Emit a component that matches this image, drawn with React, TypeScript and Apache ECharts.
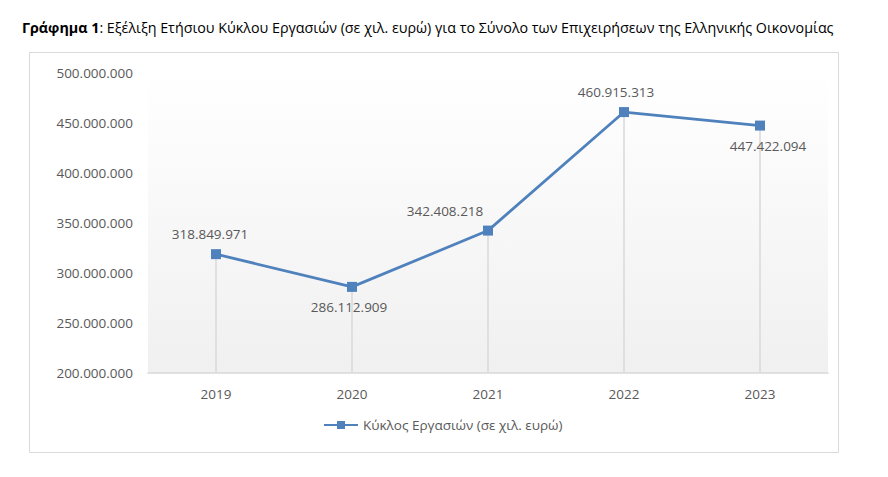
import * as echarts from 'echarts';
import { useEffect, useRef } from 'react';

const years = ['2019', '2020', '2021', '2022', '2023'];
const turnover = [318849971, 286112909, 342408218, 460915313, 447422094];
const seriesName = 'Κύκλος Εργασιών (σε χιλ. ευρώ)';
const titleBold = 'Γράφημα 1';
const titleRest = ': Εξέλιξη Ετήσιου Κύκλου Εργασιών (σε χιλ. ευρώ) για το Σύνολο των Επιχειρήσεων της Ελληνικής Οικονομίας';

const AXIS_MIN = 200000000;
const FONT = '"Open Sans", "Noto Sans", sans-serif';
const TEXT = '#595959';
const BLUE = '#4f81bd';

// 500000000 -> 500.000.000
const fmt = (v: number) => String(Math.round(v)).replace(/\B(?=(\d{3})+(?!\d))/g, '.');

// label placement per point, as Excel put them
const labelPos: { position: string; offset: number[] }[] = [
  { position: 'top', offset: [-6, 0] },
  { position: 'bottom', offset: [-3, 0] },
  { position: 'top', offset: [-43, 0] },
  { position: 'top', offset: [-8, 0] },
  { position: 'bottom', offset: [8, 0] },
];

export default function App() {
  const ref = useRef<HTMLDivElement>(null);

  useEffect(() => {
    if (!ref.current) return;
    const chart = echarts.init(ref.current, undefined, { renderer: 'svg' });

    chart.setOption({
      animation: false,
      textStyle: { fontFamily: FONT },
      title: {
        left: 17,
        top: 15,
        text: `{b|${titleBold}}{n|${titleRest}}`,
        textStyle: {
          fontWeight: 'normal',
          rich: {
            b: { fontFamily: FONT, fontSize: 14.3, fontWeight: 'bold', color: '#000' },
            n: { fontFamily: FONT, fontSize: 14.3, fontWeight: 'normal', color: '#000' },
          },
        },
      },
      graphic: [
        {
          type: 'rect',
          shape: { x: 29.5, y: 52.5, width: 809, height: 400 },
          style: { fill: 'none', stroke: '#d9d9d9', lineWidth: 1 },
          silent: true,
          z: -1,
        },
      ],
      grid: {
        left: 148,
        right: 60,
        top: 73,
        bottom: 104,
        show: true,
        borderWidth: 0,
        backgroundColor: new echarts.graphic.LinearGradient(0, 0, 0, 1, [
          { offset: 0, color: '#ffffff' },
          { offset: 1, color: '#f0f0f0' },
        ]),
      },
      legend: {
        bottom: 40,
        left: 318,
        itemWidth: 34,
        itemHeight: 10,
        itemGap: 4,
        textStyle: { color: TEXT, fontSize: 13.5, fontFamily: FONT },
        data: [seriesName],
      },
      xAxis: {
        type: 'category',
        data: years,
        boundaryGap: true,
        axisLine: { lineStyle: { color: '#d9d9d9', width: 1.5 } },
        axisTick: { show: false },
        axisLabel: { color: TEXT, fontSize: 13.5, margin: 14, fontFamily: FONT },
        splitLine: { show: false },
      },
      yAxis: {
        type: 'value',
        min: AXIS_MIN,
        max: 500000000,
        interval: 50000000,
        axisLine: { show: false },
        axisTick: { show: false },
        splitLine: { show: false },
        axisLabel: { color: TEXT, fontSize: 13.5, margin: 15, fontFamily: FONT, formatter: fmt },
      },
      series: [
        {
          name: seriesName,
          type: 'line',
          data: turnover.map((v, i) => ({
            value: v,
            label: labelPos[i],
          })),
          symbol: 'rect',
          symbolSize: 10,
          lineStyle: { color: BLUE, width: 2.75 },
          itemStyle: { color: BLUE },
          label: {
            show: true,
            color: TEXT,
            fontSize: 13.5,
            fontFamily: FONT,
            distance: 8,
            formatter: (p: { value: number }) => fmt(p.value),
          },
          z: 3,
          markLine: {
            silent: true,
            symbol: 'none',
            label: { show: false },
            lineStyle: { color: '#d9d9d9', width: 1.5, type: 'solid' },
            z: 1,
            data: turnover.map((v, i) => [
              { coord: [i, v] },
              { coord: [i, AXIS_MIN] },
            ]),
          },
        },
      ],
    });

    return () => chart.dispose();
  }, []);

  return (
    <div
      ref={ref}
      style={{ position: 'fixed', left: 0, top: 0, width: 888, height: 477, background: '#fff' }}
    />
  );
}
